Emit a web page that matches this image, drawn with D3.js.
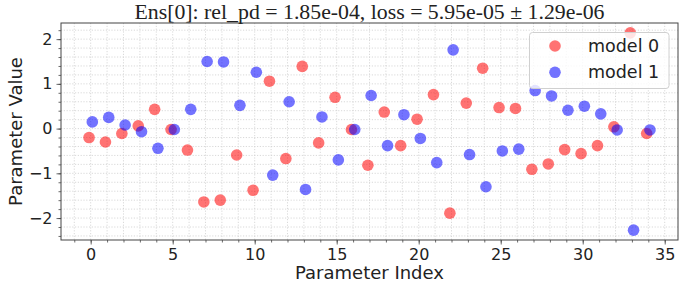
<!DOCTYPE html>
<html>
<head>
<meta charset="utf-8">
<script src="https://cdn.jsdelivr.net/npm/d3@7"></script>
<style>
  html, body { margin: 0; padding: 0; background: #fff; }
  svg { display: block; }
</style>
</head>
<body>
<svg id="chart" width="697" height="288"></svg>
<script>
const titleText = "Ens[0]: rel_pd = 1.85e-04, loss = 5.95e-05 \u00b1 1.29e-06";
const seriesNames = ["model 0", "model 1"];
const seriesColors = ["#ff0000", "#0000ff"];
const xOffsets = [-0.1, 0.1];
const model0 = [-0.20,-0.30,-0.11,0.06,0.43,-0.02,-0.48,-1.64,-1.60,-0.59,-1.38,1.06,-0.67,1.39,-0.32,0.70,-0.02,-0.82,0.37,-0.38,0.21,0.76,-1.89,0.57,1.35,0.47,0.45,-0.91,-0.79,-0.47,-0.56,-0.38,0.04,2.14,-0.11];
const model1 = [0.15,0.25,0.08,-0.07,-0.44,-0.02,0.43,1.50,1.49,0.52,1.26,-1.04,0.60,-1.36,0.26,-0.70,-0.02,0.74,-0.38,0.31,-0.22,-0.76,1.76,-0.58,-1.30,-0.50,-0.46,0.85,0.73,0.41,0.50,0.33,-0.03,-2.27,-0.03];
const xTicks = [0, 5, 10, 15, 20, 25, 30, 35];
const yTicks = [-2, -1, 0, 1, 2];
const xLabel = "Parameter Index";
const yLabel = "Parameter Value";

const series = [model0, model1];
const svg = d3.select("#chart");
const L = 61, R = 678, T = 23, B = 240;

const allX = [], allY = [];
series.forEach((s, k) => s.forEach((v, i) => { allX.push(i + xOffsets[k]); allY.push(v); }));
function pad(ext) { const d = (ext[1] - ext[0]) * 0.05; return [ext[0] - d, ext[1] + d]; }
const x = d3.scaleLinear().domain(pad(d3.extent(allX))).range([L, R]);
const y = d3.scaleLinear().domain(pad(d3.extent(allY))).range([B, T]);

const xMinor = d3.range(Math.ceil(x.domain()[0]), Math.floor(x.domain()[1]) + 1);
const yMinor = d3.range(Math.ceil(y.domain()[0] / 0.2), Math.floor(y.domain()[1] / 0.2) + 1).map(v => +(v * 0.2).toFixed(2));

// grid
const grid = svg.append("g");
grid.selectAll(".gx").data(xMinor).enter().append("line")
  .attr("x1", d => x(d)).attr("x2", d => x(d)).attr("y1", T).attr("y2", B)
  .attr("stroke", "#cfcfcf").attr("stroke-width", 0.8).attr("stroke-dasharray", "1.2,1.6");
grid.selectAll(".gy").data(yMinor).enter().append("line")
  .attr("y1", d => y(d)).attr("y2", d => y(d)).attr("x1", L).attr("x2", R)
  .attr("stroke", "#cfcfcf").attr("stroke-width", 0.8).attr("stroke-dasharray", "1.2,1.6");

// points
series.forEach((s, k) => {
  svg.append("g").selectAll("circle").data(s).enter().append("circle")
    .attr("cx", (d, i) => x(i + xOffsets[k]))
    .attr("cy", d => y(d))
    .attr("r", 5.8)
    .attr("fill", seriesColors[k])
    .attr("fill-opacity", 0.55);
});

// axes
const fontTick = "DejaVu Sans, sans-serif";
const xAxis = svg.append("g").attr("transform", `translate(0,${B})`)
  .call(d3.axisBottom(x).tickValues(xTicks).tickSize(4.5).tickPadding(4).tickFormat(d3.format("d")));
const xAxisMinor = svg.append("g").attr("transform", `translate(0,${B})`)
  .call(d3.axisBottom(x).tickValues(xMinor).tickSize(2.5).tickFormat(""));
const yAxis = svg.append("g").attr("transform", `translate(${L},0)`)
  .call(d3.axisLeft(y).tickValues(yTicks).tickSize(4.5).tickPadding(4).tickFormat(d3.format("d")));
const yAxisMinor = svg.append("g").attr("transform", `translate(${L},0)`)
  .call(d3.axisLeft(y).tickValues(yMinor).tickSize(2.5).tickFormat(""));
[xAxis, xAxisMinor, yAxis, yAxisMinor].forEach(g => {
  g.select(".domain").remove();
  g.selectAll("line").attr("stroke", "#444").attr("stroke-width", 0.8);
  g.selectAll("text").attr("font-family", fontTick).attr("font-size", 16).attr("fill", "#222");
});

// frame
svg.append("rect").attr("x", L).attr("y", T).attr("width", R - L).attr("height", B - T)
  .attr("fill", "none").attr("stroke", "#444").attr("stroke-width", 1);

// labels
svg.append("text").attr("x", (L + R) / 2).attr("y", 279).attr("text-anchor", "middle")
  .attr("font-family", fontTick).attr("font-size", 18).attr("fill", "#222").text(xLabel);
svg.append("text").attr("transform", `translate(22,${(T + B) / 2}) rotate(-90)`).attr("text-anchor", "middle")
  .attr("font-family", fontTick).attr("font-size", 18).attr("fill", "#222").text(yLabel);
svg.append("text").attr("x", (L + R) / 2).attr("y", 19).attr("text-anchor", "middle")
  .attr("font-family", "Liberation Serif, serif").attr("font-size", 21.8).attr("fill", "#222").text(titleText);

// legend
const lg = svg.append("g");
lg.append("rect").attr("x", 529.5).attr("y", 32.5).attr("width", 139.5).attr("height", 56)
  .attr("rx", 3).attr("fill", "#fff").attr("fill-opacity", 0.8).attr("stroke", "#d0d0d0").attr("stroke-width", 1);
seriesNames.forEach((n, k) => {
  const cy = 46 + k * 26.3;
  lg.append("circle").attr("cx", 555).attr("cy", cy).attr("r", 5.8)
    .attr("fill", seriesColors[k]).attr("fill-opacity", 0.55);
  lg.append("text").attr("x", 588).attr("y", cy + 6).attr("font-family", fontTick)
    .attr("font-size", 17.5).attr("fill", "#222").text(n);
});
</script>
</body>
</html>
